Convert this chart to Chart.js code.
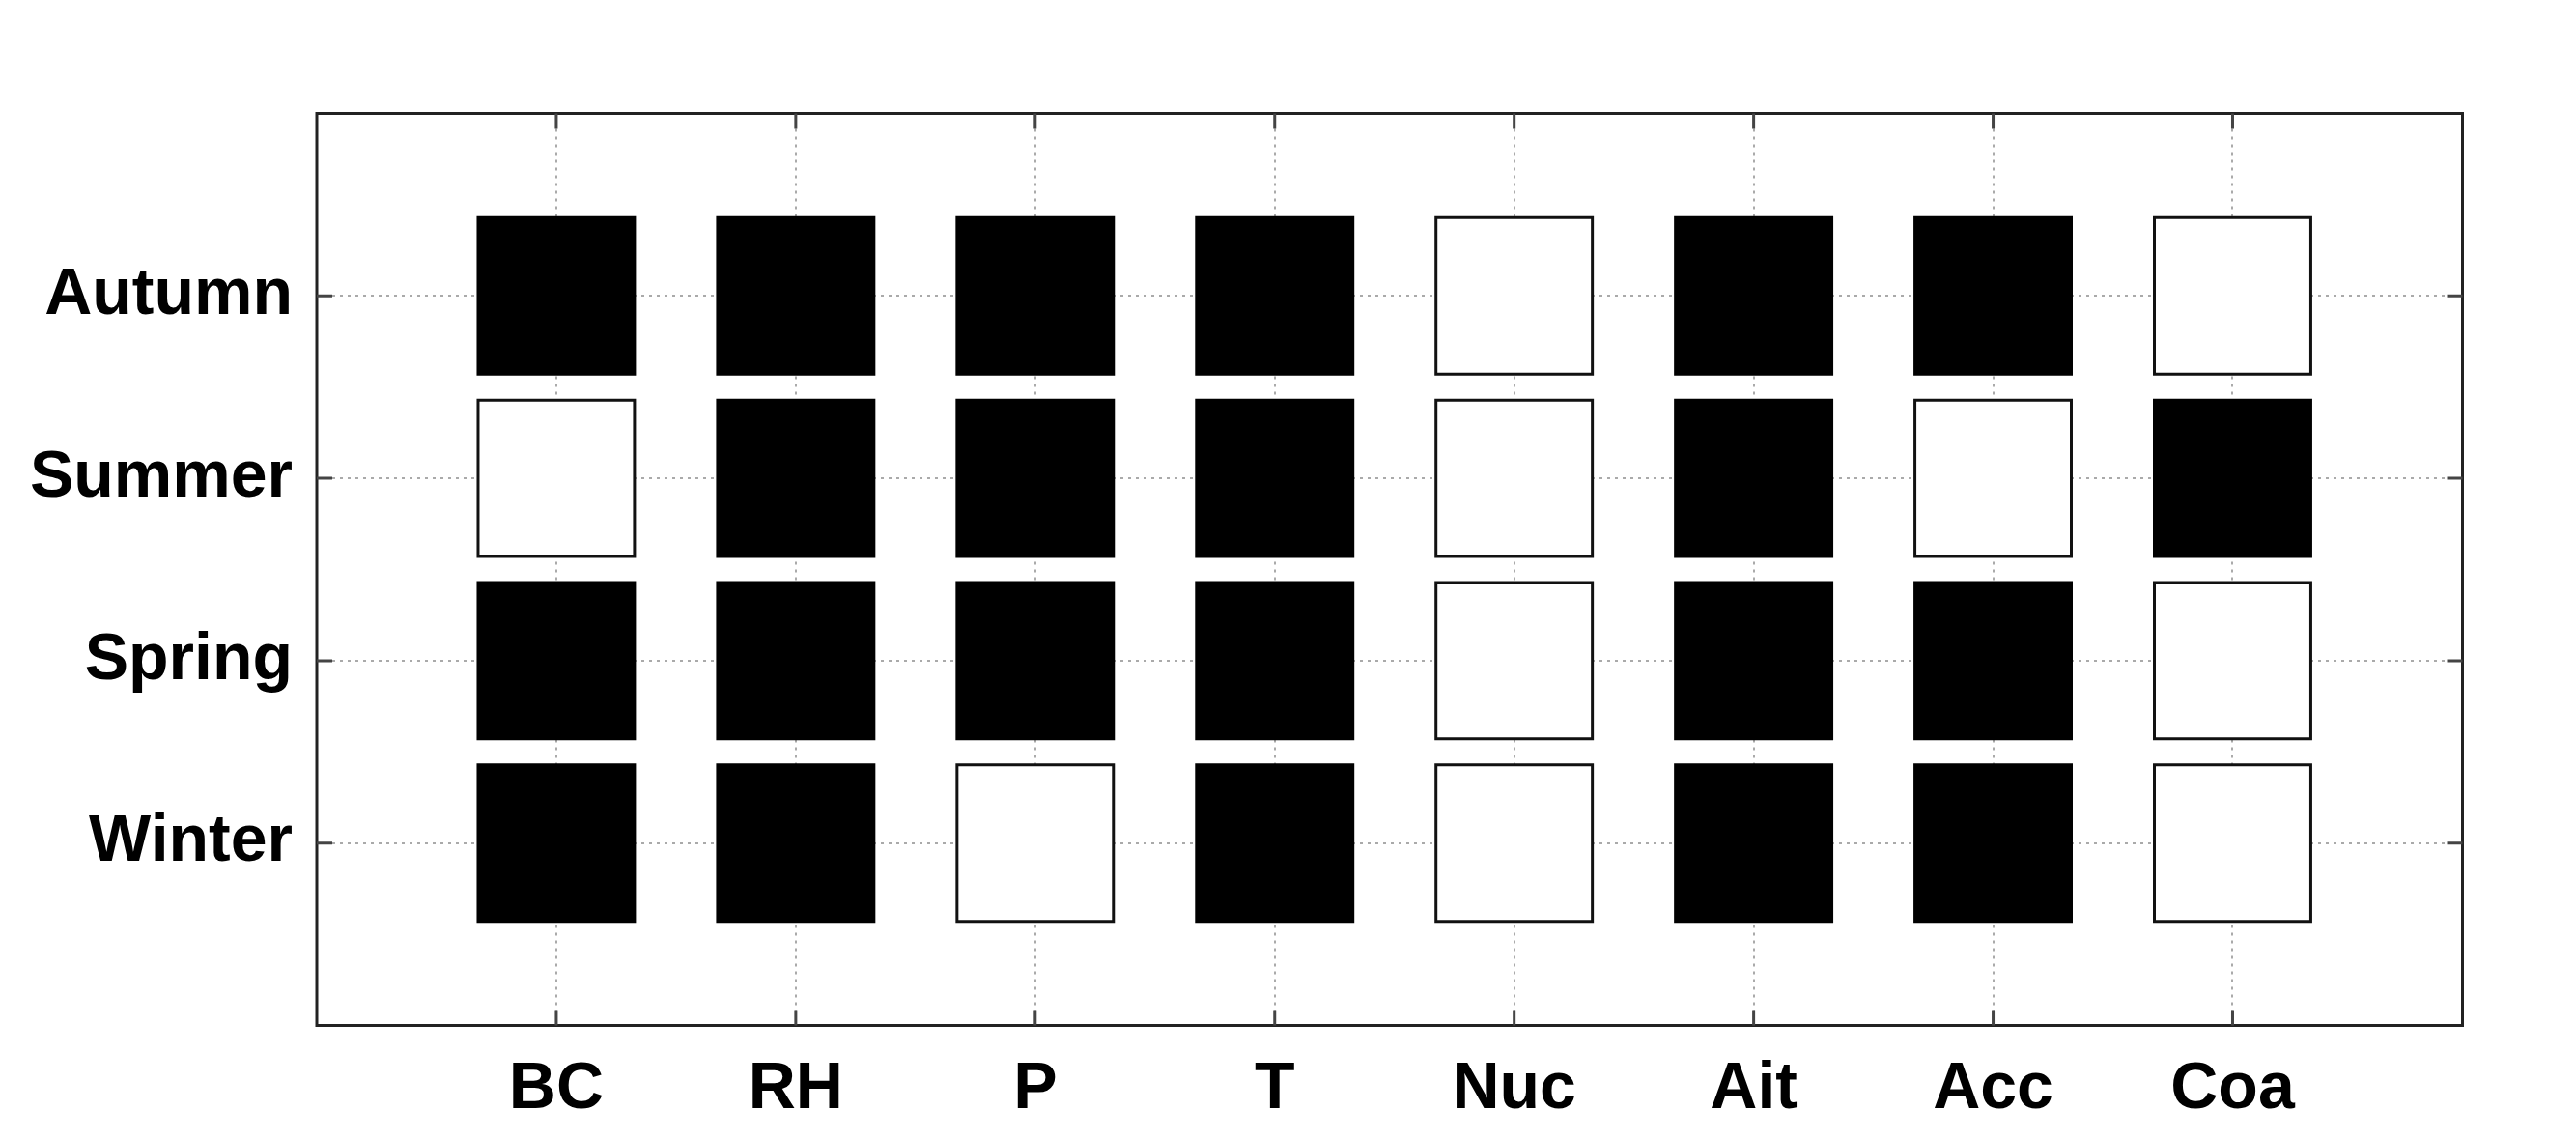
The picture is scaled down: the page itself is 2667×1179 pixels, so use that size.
<!DOCTYPE html>
<html><head><meta charset="utf-8">
<script src="https://cdn.jsdelivr.net/npm/chart.js@4"></script>
<style>html,body{margin:0;padding:0;background:#fff}#wrap{width:2667px;height:1179px}</style>
</head><body><div id="wrap"><canvas id="c"></canvas></div>
<script>
const variables = ["BC","RH","P","T","Nuc","Ait","Acc","Coa"];
const seasons = ["Winter","Spring","Summer","Autumn"];
// 1 = filled (significant), 0 = open
const winter = [1,1,0,1,0,1,1,0];
const spring = [1,1,1,1,0,1,1,0];
const summer = [0,1,1,1,0,1,0,1];
const autumn = [1,1,1,1,0,1,1,0];
const matrix = [winter, spring, summer, autumn];

const filled = [], open = [];
matrix.forEach((row, si) => row.forEach((v, vi) => {
  (v ? filled : open).push({x: vi + 1, y: si + 1});
}));
const FONT = "'Liberation Sans',Arial,sans-serif";
const R = 114.5;
const frame = {id:'frame', afterDraw(c){const a=c.chartArea,g=c.ctx;g.save();g.strokeStyle='#222';g.lineWidth=3;g.strokeRect(a.left,a.top,a.right-a.left,a.bottom-a.top);
 g.lineWidth=3;g.strokeStyle='#444';
 c.scales.x.ticks.forEach(t=>{const px=c.scales.x.getPixelForValue(t.value);g.beginPath();g.moveTo(px,a.bottom);g.lineTo(px,a.bottom-16);g.moveTo(px,a.top);g.lineTo(px,a.top+16);g.stroke();});
 c.scales.y.ticks.forEach(t=>{const py=c.scales.y.getPixelForValue(t.value);g.beginPath();g.moveTo(a.left,py);g.lineTo(a.left+16,py);g.moveTo(a.right,py);g.lineTo(a.right-16,py);g.stroke();});
 g.restore();}};
new Chart(document.getElementById('c'), {
  type: 'scatter',
  data: {datasets: [
    {data: filled, pointStyle:'rect', pointRadius:R, pointHoverRadius:R, backgroundColor:'#000', borderColor:'#000', borderWidth:3},
    {data: open, pointStyle:'rect', pointRadius:R, pointHoverRadius:R, backgroundColor:'#fff', borderColor:'#111', borderWidth:3}
  ]},
  options: {
    responsive:true, maintainAspectRatio:false, animation:false,
    layout:{padding:{left:0,right:30,top:17,bottom:0}},
    plugins:{legend:{display:false}, tooltip:{enabled:false}},
    scales:{
      x:{min:0,max:8.96,
        afterBuildTicks(s){s.ticks=variables.map((_,i)=>({value:i+1}));},
        afterFit(s){s.height=107;s.paddingLeft=0;s.paddingRight=0;},
        ticks:{callback:(v)=>variables[v-1]||'',font:{family:FONT,size:68,weight:'bold'},color:'#000',padding:26,maxRotation:0,autoSkip:false},
        grid:{color:'#aaa',lineWidth:2,drawTicks:false},
        border:{display:false,dash:[3,5]}},
      y:{min:0,max:5,
        afterBuildTicks(s){s.ticks=seasons.map((_,i)=>({value:i+1}));},
        afterFit(s){s.width=328;s.paddingTop=0;s.paddingBottom=0;},
        ticks:{callback:(v)=>seasons[v-1]||'',font:{family:FONT,size:68,weight:'bold'},color:'#000',padding:25,autoSkip:false},
        grid:{color:'#aaa',lineWidth:2,drawTicks:false},
        border:{display:false,dash:[3,5]}}
    }
  },
  plugins:[frame]
});
</script></body></html>
